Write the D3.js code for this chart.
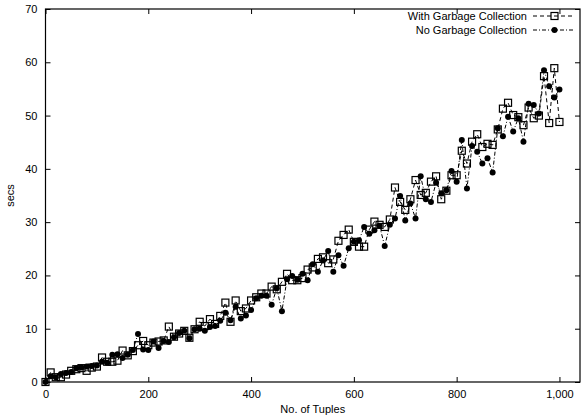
<!DOCTYPE html>
<html>
<head>
<meta charset="utf-8">
<script src="https://cdn.jsdelivr.net/npm/d3@7"></script>
<style>
  body { margin: 0; background: #fff; }
  svg { display: block; font-family: "Liberation Sans", Arial, sans-serif; }
</style>
</head>
<body>
<svg width="581" height="420"></svg>
<script>
let width = 581;
let height = 420;

// tuples, one sample every 10
let tuples = d3.range(0, 1001, 10);

// seconds with garbage collection (open squares)
let withGC = [0, 1.8, 0.9, 0.9, 1.4, 2.1, 2.4, 2.6, 2.1, 2.7,
  2.9, 4.6, 3.8, 3.8, 4.0, 5.9, 5.0, 5.8, 6.9, 7.7,
  6.9, 7.4, 7.6, 7.8, 10.4, 8.5, 9.1, 9.6, 8.3, 9.9,
  11.3, 10.5, 11.8, 10.9, 12.4, 14.9, 11.3, 15.3, 13.3, 13.8,
  15.3, 15.9, 16.6, 16.6, 17.9, 17.4, 18.8, 20.3, 19.1, 19.1,
  19.5, 21.1, 21.5, 23.1, 23.4, 22.3, 23.0, 26.5, 27.6, 28.6,
  26.3, 25.4, 25.4, 28.6, 30.1, 29.5, 29.1, 30.5, 36.5, 33.8,
  32.3, 34.3, 37.9, 35.1, 35.5, 37.6, 38.6, 34.3, 35.9, 38.8,
  38.8, 43.4, 41.0, 45.1, 46.5, 44.1, 44.7, 44.5, 47.4, 51.3,
  52.4, 50.1, 49.7, 48.2, 51.5, 49.5, 50.0, 57.4, 48.6, 58.9,
  48.8];

// seconds without garbage collection (filled dots)
let noGC = [0, 1.1, 0.9, 1.5, 1.7, 1.9, 2.6, 2.7, 2.9, 3.0,
  3.1, 3.8, 3.6, 5.1, 5.2, 4.5, 5.1, 6.0, 9.0, 6.1,
  6.0, 7.6, 6.4, 7.7, 7.5, 8.4, 9.2, 9.6, 8.2, 9.9,
  10.0, 9.6, 10.3, 10.5, 11.5, 13.0, 11.6, 14.1, 11.9, 12.5,
  13.5, 15.7, 16.2, 16.2, 14.5, 17.6, 13.3, 19.3, 19.9, 19.2,
  20.3, 19.1, 22.1, 20.7, 22.8, 24.6, 20.7, 23.8, 21.8, 25.1,
  26.3, 26.6, 29.1, 27.8, 28.5, 29.3, 25.5, 29.5, 30.7, 34.9,
  30.3, 33.5, 30.7, 38.6, 34.3, 33.8, 37.4, 35.4, 36.0, 39.6,
  37.6, 45.4, 36.3, 44.3, 43.2, 41.0, 42.0, 39.3, 47.6, 46.1,
  49.8, 47.0, 49.5, 45.1, 52.2, 52.0, 50.4, 58.5, 55.5, 53.4,
  54.9];

let xTicks = [0, 200, 400, 600, 800, 1000];
let yTicks = [0, 10, 20, 30, 40, 50, 60, 70];

let margin = {left: 45.5, right: 1, top: 9, bottom: 38};

let x = d3.scaleLinear()
  .domain([0, 1040])
  .range([margin.left, width - margin.right]);

let y = d3.scaleLinear()
  .domain([0, 70])
  .range([height - margin.bottom, margin.top]);

let svg = d3.select('svg');

// frame
svg.append('rect')
  .attr('x', x(0))
  .attr('y', y(70))
  .attr('width', x(1040) - x(0))
  .attr('height', y(0) - y(70))
  .attr('fill', 'none')
  .attr('stroke', '#000')
  .attr('stroke-width', 1.2);

// axes, ticks point inward like gnuplot
let bottomAxis = svg.append('g')
  .attr('transform', `translate(0, ${y(0)})`)
  .call(d3.axisBottom(x).tickValues(xTicks).tickSize(-5).tickPadding(8).tickSizeOuter(0));

svg.append('g')
  .attr('transform', `translate(0, ${y(70)})`)
  .call(d3.axisTop(x).tickValues(xTicks).tickSize(-5).tickFormat('').tickSizeOuter(0));

svg.append('g')
  .attr('transform', `translate(${x(0)}, 0)`)
  .call(d3.axisLeft(y).tickValues(yTicks).tickSize(-5).tickPadding(8).tickSizeOuter(0));

svg.append('g')
  .attr('transform', `translate(${x(1040)}, 0)`)
  .call(d3.axisRight(y).tickValues(yTicks).tickSize(-5).tickFormat('').tickSizeOuter(0));

svg.selectAll('.domain').remove();
svg.selectAll('.tick line').attr('stroke', '#000');
svg.selectAll('.tick text')
  .attr('fill', '#000')
  .style('font-size', '11px')
  .style('font-family', '"Liberation Sans", Arial, sans-serif');

// axis titles
svg.append('text')
  .attr('x', (x(0) + x(1040)) / 2)
  .attr('y', 413)
  .attr('text-anchor', 'middle')
  .style('font-size', '11px')
  .text('No. of Tuples');

svg.append('text')
  .attr('transform', `translate(14, ${(y(0) + y(70)) / 2}) rotate(-90)`)
  .attr('text-anchor', 'middle')
  .style('font-size', '11px')
  .text('secs');

let line = d3.line()
  .x(d => x(d.t))
  .y(d => y(d.v));

let gcData = tuples.map((t, i) => ({t: t, v: withGC[i]}));
let noGcData = tuples.map((t, i) => ({t: t, v: noGC[i]}));

let plot = svg.append('g');

// with GC: dashed line, open squares
plot.append('path')
  .datum(gcData)
  .attr('d', line)
  .attr('fill', 'none')
  .attr('stroke', '#000')
  .attr('stroke-width', 1)
  .attr('stroke-dasharray', '4,3');

// no GC: dash-dot line, filled dots
plot.append('path')
  .datum(noGcData)
  .attr('d', line)
  .attr('fill', 'none')
  .attr('stroke', '#000')
  .attr('stroke-width', 1)
  .attr('stroke-dasharray', '4,2,1,2');

plot.selectAll('.dot')
  .data(noGcData)
  .enter()
  .append('circle')
    .classed('dot', true)
    .attr('cx', d => x(d.t))
    .attr('cy', d => y(d.v))
    .attr('r', 3)
    .attr('fill', '#000');

plot.selectAll('.sq')
  .data(gcData)
  .enter()
  .append('rect')
    .classed('sq', true)
    .attr('x', d => x(d.t) - 3.5)
    .attr('y', d => y(d.v) - 3.5)
    .attr('width', 7)
    .attr('height', 7)
    .attr('fill', 'none')
    .attr('stroke', '#000')
    .attr('stroke-width', 1.2);

// legend
let legendItems = [
  {label: 'With Garbage Collection', dash: '4,3', mark: 'sq'},
  {label: 'No Garbage Collection', dash: '4,2,1,2', mark: 'dot'}
];

let legend = svg.append('g')
  .selectAll('g')
  .data(legendItems)
  .enter()
  .append('g')
    .attr('transform', (d, i) => `translate(0, ${20 + i * 14})`);

legend.append('text')
  .attr('x', 527)
  .attr('y', 0)
  .attr('text-anchor', 'end')
  .style('font-size', '11px')
  .text(d => d.label);

legend.append('line')
  .attr('x1', 533)
  .attr('x2', 575)
  .attr('y1', -4)
  .attr('y2', -4)
  .attr('stroke', '#000')
  .attr('stroke-dasharray', d => d.dash);

legend.filter(d => d.mark === 'sq')
  .append('rect')
    .attr('x', 551)
    .attr('y', -7.5)
    .attr('width', 7)
    .attr('height', 7)
    .attr('fill', 'none')
    .attr('stroke', '#000')
    .attr('stroke-width', 1.2);

legend.filter(d => d.mark === 'dot')
  .append('circle')
    .attr('cx', 554.5)
    .attr('cy', -4)
    .attr('r', 3)
    .attr('fill', '#000');
</script>
</body>
</html>
